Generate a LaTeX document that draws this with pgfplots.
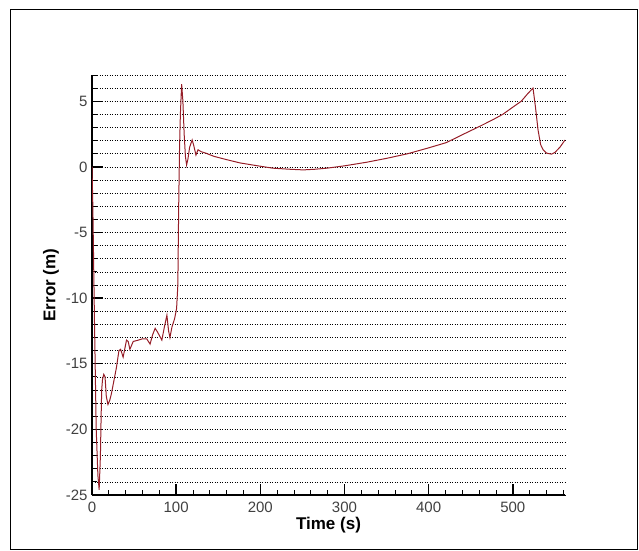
\documentclass[border=0pt]{standalone}
\usepackage{pgfplots}
\pgfplotsset{compat=1.18}
\usepackage{fontspec}
\setmainfont{Liberation Sans}
\definecolor{errline}{RGB}{150,30,40}
\begin{document}
\begin{tikzpicture}[x=1pt,y=1pt]
\path (0,0) rectangle (639,550);
\draw[black, line width=0.8pt] (10,1) rectangle (637,541);
\begin{axis}[
  at={(92pt,55pt)}, anchor=south west,
  scale only axis,
  width=473pt, height=420pt,
  xmin=0, xmax=562,
  ymin=-25, ymax=7,
  axis x line=bottom, axis y line=left,
  axis line style={-, line width=1.4pt},
  xtick={0,100,...,500},
  minor xtick={20,40,...,560},
  ytick={-25,-20,...,5},
  minor ytick={-24,-23,...,7},
  tick align=inside,
  major tick length=11pt, minor tick length=5pt,
  major tick style={line width=1.4pt, black},
  minor tick style={line width=0.8pt, black},
  grid=both,
  major grid style={black, line width=0.6pt, dash pattern=on 1pt off 1.5pt},
  minor grid style={black, line width=0.6pt, dash pattern=on 1pt off 1.5pt},
  xmajorgrids=false, xminorgrids=false,
  ymajorgrids=true, yminorgrids=true,
  tick label style={font=\fontsize{15}{16}\selectfont, text=black!75},
  xticklabel style={yshift=-3pt},
  yticklabel style={xshift=-1pt},
  /pgf/number format/assume math mode=true,
  xlabel={\textbf{Time (s)}},
  ylabel={\textbf{Error (m)}},
  label style={font=\fontsize{17}{19}\selectfont},
  xlabel style={yshift=2pt},
  ylabel style={yshift=0pt},
]
\addplot[errline, line width=1pt] coordinates {
  (0,0) (1,-3) (3,-12) (5,-20) (7,-23.5) (8.5,-24.6) (10,-22) (10.7,-19.5)
  (11.5,-17) (12.5,-16.2) (14,-15.8) (15.5,-16.0) (17,-17.5) (19,-18.1)
  (21,-17.8) (23,-17.3) (26,-16.3) (29,-15.3) (32,-14) (34,-13.9) (37,-14.5)
  (41,-13.2) (43,-13.3) (45,-13.9) (49,-13.3) (55,-13.2) (60,-13.1) (65,-13.1)
  (69,-13.5) (72,-12.8) (75,-12.3) (78,-12.6) (83,-13.2) (86,-12.2) (89,-11.3)
  (91,-12.5) (92.6,-13.0) (95,-12.2) (98,-11.6) (100.5,-10.8) (102,-9) (103,-3)
  (104,1.4) (105,4) (106.5,6.3) (108,5) (109.5,2.5) (111,0.8) (112.4,0.15)
  (114,0.6) (116,1.5) (119,2.05) (121,1.6) (123.5,0.9) (126,1.3) (130,1.15)
  (135,1.05) (145,0.8) (160,0.55) (176,0.3) (195,0.1) (215,-0.1) (235,-0.18)
  (251,-0.23) (265,-0.18) (279,-0.1) (300,0.08) (326,0.35) (350,0.65)
  (375,1.0) (400,1.45) (421,1.85) (440,2.45) (461,3.1) (475,3.55) (488,4.0)
  (500,4.55) (510,5.0) (518,5.6) (524,6.0) (527,4.5) (530,2.8) (533,1.7)
  (536,1.3) (540,1.05) (546,0.97) (550,1.1) (556,1.5) (562,2.05)
};
\end{axis}
\end{tikzpicture}
\end{document}
